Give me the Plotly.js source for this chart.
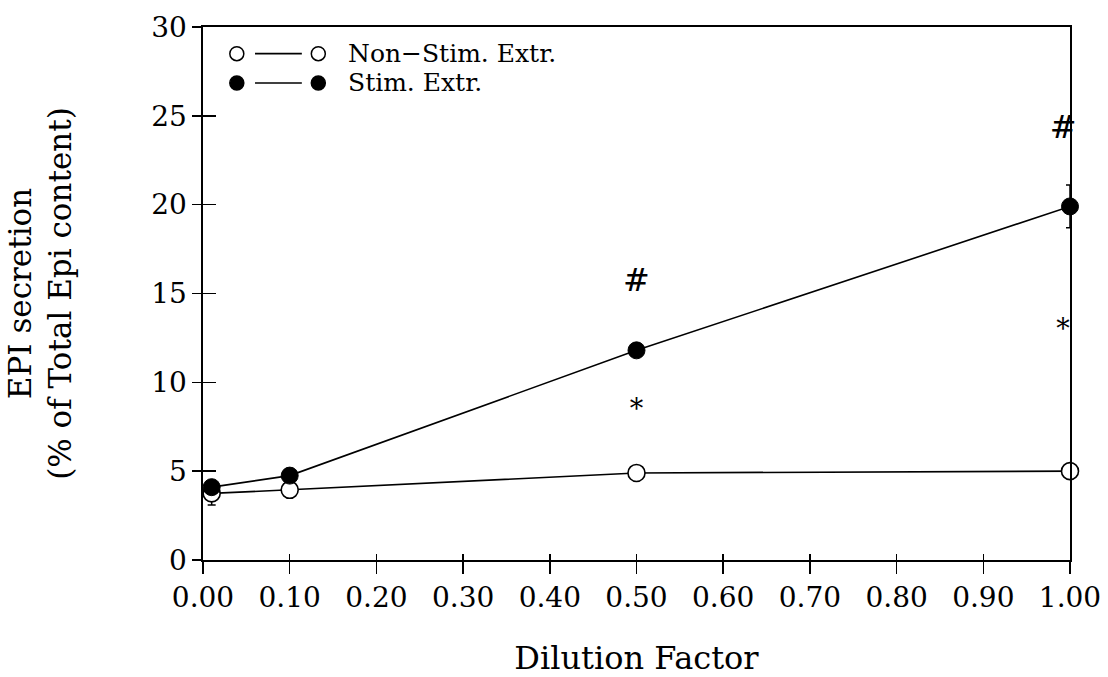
<!DOCTYPE html>
<html>
<head>
<meta charset="utf-8">
<script src="https://cdn.plot.ly/plotly-3.0.1.min.js"></script>
<style>html,body{margin:0;padding:0;background:#fff;}#chart{width:1108px;height:677px;}</style>
</head>
<body>
<div id="chart"></div>
<script>
// Data
const dilution = [0.01, 0.10, 0.50, 1.00];
const nonStim = [3.75, 3.95, 4.9, 5.0];
const nonStimErr = [0.65, 0, 0, 0];
const stim = [4.1, 4.75, 11.8, 19.9];
const stimErr = [0, 0, 0, 1.2];
const markX = [0.5, 0.5, 0.992, 0.992];
const markY = [15.6, 8.4, 24.2, 12.9];
const markText = ['#', '*', '#', '*'];
const markSize = [32, 27, 32, 27];
const yTicks = [0, 5, 10, 15, 20, 25, 30];
const xTicks = [0, 0.1, 0.2, 0.3, 0.4, 0.5, 0.6, 0.7, 0.8, 0.9, 1.0];
const xTickText = ['0.00','0.10','0.20','0.30','0.40','0.50','0.60','0.70','0.80','0.90','1.00'];
const legendNames = ['Non\u2212Stim. Extr.', 'Stim. Extr.'];

const FONT = 'DejaVu Serif, serif';

const traces = [
  {
    x: dilution, y: nonStim, mode: 'lines+markers', name: legendNames[0],
    line: {color: '#000', width: 1.6},
    marker: {symbol: 'circle', size: 17, color: '#fff', line: {color: '#000', width: 1.6}},
    error_y: {type: 'data', array: nonStimErr, color: '#000', thickness: 1.5, width: 4},
    cliponaxis: false, showlegend: false
  },
  {
    x: dilution, y: stim, mode: 'lines+markers', name: legendNames[1],
    line: {color: '#000', width: 1.6},
    marker: {symbol: 'circle', size: 17, color: '#000', line: {color: '#000', width: 1}},
    error_y: {type: 'data', array: stimErr, color: '#000', thickness: 1.5, width: 4},
    cliponaxis: false, showlegend: false
  },
  {
    x: markX, y: markY, mode: 'text', text: markText,
    textfont: {family: FONT, size: markSize, color: '#000'},
    textposition: 'middle center', cliponaxis: false, showlegend: false, hoverinfo: 'skip'
  },
  { // helper trace so the inner-tick overlay axes are drawn
    x: [null], y: [null], xaxis: 'x2', yaxis: 'y2', mode: 'markers', showlegend: false, hoverinfo: 'skip'
  }
];

// Custom legend (two markers joined by a line, like the original)
const shapes = [];
const annotations = [];
const rowsY = [0.950, 0.895];
const legendFill = ['#fff', '#000'];
rowsY.forEach((py, i) => {
  [0.039, 0.133].forEach(px => {
    shapes.push({type: 'circle', xref: 'paper', yref: 'paper', xsizemode: 'pixel', ysizemode: 'pixel',
      xanchor: px, yanchor: py, x0: -7, x1: 7, y0: -7, y1: 7,
      fillcolor: legendFill[i], line: {color: '#000', width: 1.5}});
  });
  shapes.push({type: 'line', xref: 'paper', yref: 'paper', x0: 0.060, x1: 0.114, y0: py, y1: py,
    line: {color: '#000', width: 1.6}});
  annotations.push({xref: 'paper', yref: 'paper', x: 0.165, y: py, xanchor: 'left', yanchor: 'middle',
    text: legendNames[i], showarrow: false, font: {family: FONT, size: 25, color: '#000'}});
});

const layout = {
  width: 1108, height: 677,
  margin: {l: 203, r: 38, t: 27, b: 117},
  paper_bgcolor: '#fff', plot_bgcolor: '#fff',
  font: {family: FONT, color: '#000'},
  showlegend: false,
  xaxis: {
    range: [0, 1], tickvals: xTicks, ticktext: xTickText,
    ticks: 'outside', ticklen: 12, tickwidth: 1.5, tickcolor: '#000',
    showline: true, linecolor: '#000', linewidth: 1.6, mirror: true,
    showgrid: false, zeroline: false,
    tickfont: {family: FONT, size: 28, color: '#000'},
    title: {text: 'Dilution Factor', font: {family: FONT, size: 32, color: '#000'}, standoff: 38}
  },
  yaxis: {
    range: [0, 30], tickvals: yTicks,
    ticks: 'outside', ticklen: 9, tickwidth: 1.5, tickcolor: '#000',
    showline: true, linecolor: '#000', linewidth: 1.6, mirror: true,
    showgrid: false, zeroline: false,
    tickfont: {family: FONT, size: 28, color: '#000'},
    title: {text: 'EPI secretion<br>(% of Total Epi content)', font: {family: FONT, size: 31, color: '#000'}, standoff: 70}
  },
  xaxis2: {
    overlaying: 'x', anchor: 'y2', range: [0, 1], tickvals: xTicks,
    ticks: 'inside', ticklen: 6, tickwidth: 1.5, tickcolor: '#000',
    showticklabels: false, showline: false, showgrid: false, zeroline: false, side: 'bottom'
  },
  yaxis2: {
    overlaying: 'y', anchor: 'x2', range: [0, 30], tickvals: yTicks,
    ticks: 'inside', ticklen: 13, tickwidth: 1.5, tickcolor: '#000',
    showticklabels: false, showline: false, showgrid: false, zeroline: false, side: 'left'
  },
  shapes: shapes,
  annotations: annotations
};

Plotly.newPlot('chart', traces, layout, {displayModeBar: false, staticPlot: true});
</script>
</body>
</html>
